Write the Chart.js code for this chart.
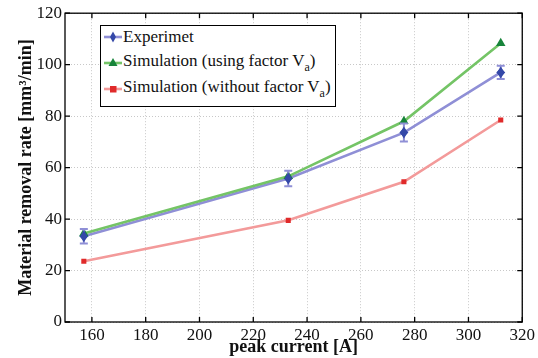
<!DOCTYPE html>
<html><head><meta charset="utf-8">
<script src="https://cdn.jsdelivr.net/npm/chart.js@4"></script>
<style>
html,body{margin:0;padding:0;background:#fff;}
#wrap{position:relative;width:538px;height:358px;}
#legend{position:absolute;left:100px;top:25px;width:234px;height:80px;border:1.3px solid #000;background:#fff;font-family:'Liberation Serif','Times New Roman','DejaVu Serif',serif;font-size:17px;color:#111;}
#legend .row{position:absolute;left:3px;display:flex;align-items:center;white-space:nowrap;}
#legend svg{margin-right:1px;}
#legend sub{font-size:12px;vertical-align:-5px;}
</style></head>
<body><div id="wrap"><canvas id="c" width="538" height="358"></canvas>
<div id="legend"></div></div>
<script>
const xTicks = [160,180,200,220,240,260,280,300,320];
const yTicks = [0,20,40,60,80,100,120];
const current = [157,233,276,312];
const experiment = [33.3,55.8,73.6,97.0];
const experimentErr = [2.8,3.0,3.5,2.6];
const simWithVa = [34.4,56.6,78.0,108.3];
const simWithoutVa = [23.6,39.5,54.5,78.5];

const FAM = "'Liberation Serif','Times New Roman','DejaVu Serif',serif";
Chart.defaults.font.family = FAM;
Chart.defaults.font.size = 17;
Chart.defaults.color = '#111';
const pts = (ys)=>current.map((x,i)=>({x:x,y:ys[i]}));
const series = [
 {label:'Experimet', data:pts(experiment), line:'#8f8fd6', mark:'#3448a8', style:'rectRot', r:4.5, order:2},
 {label:'Simulation (using factor V<sub>a</sub>)', data:pts(simWithVa), line:'#74c466', mark:'#17843a', style:'triangle', r:5.5, order:1},
 {label:'Simulation (without factor V<sub>a</sub>)', data:pts(simWithoutVa), line:'#f39a9a', mark:'#e02a2a', style:'rect', r:3.6, order:3}
];

const errPlugin = {
 id:'err',
 afterDatasetsDraw(chart){
  const {ctx, scales:{x,y}} = chart;
  ctx.save();
  ctx.strokeStyle='#8f8fd6'; ctx.lineWidth=2;
  current.forEach((cx,i)=>{
   const px=x.getPixelForValue(cx);
   const y1=y.getPixelForValue(experiment[i]-experimentErr[i]);
   const y2=y.getPixelForValue(experiment[i]+experimentErr[i]);
   ctx.beginPath();
   ctx.moveTo(px,y1);ctx.lineTo(px,y2);
   ctx.moveTo(px-4,y1);ctx.lineTo(px+4,y1);
   ctx.moveTo(px-4,y2);ctx.lineTo(px+4,y2);
   ctx.stroke();
   const py=y.getPixelForValue(experiment[i]);
   ctx.fillStyle='#3448a8';
   ctx.beginPath();ctx.moveTo(px,py-6);ctx.lineTo(px+3.8,py);ctx.lineTo(px,py+6);ctx.lineTo(px-3.8,py);ctx.closePath();ctx.fill();
  });
  ctx.restore();
 }
};
const boxPlugin = {
 id:'box',
 afterDraw(chart){
  const {ctx, chartArea:a, scales:{x,y}} = chart;
  ctx.save();
  ctx.strokeStyle='#000'; ctx.lineWidth=1.3;
  ctx.strokeRect(a.left,a.top,a.right-a.left,a.bottom-a.top);
  ctx.beginPath();
  xTicks.forEach(v=>{const p=x.getPixelForValue(v);ctx.moveTo(p,a.bottom);ctx.lineTo(p,a.bottom-5);ctx.moveTo(p,a.top);ctx.lineTo(p,a.top+5);});
  yTicks.forEach(v=>{const p=y.getPixelForValue(v);ctx.moveTo(a.left,p);ctx.lineTo(a.left+5,p);ctx.moveTo(a.right,p);ctx.lineTo(a.right-5,p);});
  ctx.stroke();
  ctx.restore();
 }
};

new Chart(document.getElementById('c'),{
 type:'line',
 data:{datasets:series.map(s=>({label:s.label,data:s.data,borderColor:s.line,backgroundColor:s.mark,borderWidth:2.6,
   pointStyle:s.style,pointRadius:s.r,pointBorderColor:s.mark,pointBackgroundColor:s.mark,pointBorderWidth:0,order:s.order,tension:0}))},
 options:{
  responsive:false,animation:false,
  layout:{padding:{top:12,right:15,left:0,bottom:0}},
  plugins:{legend:{display:false},tooltip:{enabled:false}},
  scales:{
   x:{type:'linear',min:150,max:320,
     afterBuildTicks:s=>{s.ticks=xTicks.map(v=>({value:v}));},
     afterFit:s=>{s.height=36;},
     grid:{color:'#c8c8c8',lineWidth:1,drawTicks:false},
     border:{display:false,dash:[1,2]},
     ticks:{font:{family:FAM,size:17},color:'#111',padding:3,maxRotation:0},
     title:{display:true,text:'peak current [A]',font:{family:FAM,size:18,weight:'bold'},color:'#111',padding:{top:-8,bottom:0}}},
   y:{type:'linear',min:0,max:120,
     afterBuildTicks:s=>{s.ticks=yTicks.map(v=>({value:v}));},
     afterFit:s=>{s.width=65;},
     grid:{color:'#c8c8c8',lineWidth:1,drawTicks:false},
     border:{display:false,dash:[1,2]},
     ticks:{font:{family:FAM,size:17},color:'#111',padding:3},
     title:{display:true,text:'Material removal rate [mm³/min]',font:{family:FAM,size:18,weight:'bold'},color:'#111',padding:{top:16,bottom:0}}}
  }
 },
 plugins:[errPlugin,boxPlugin]
});

const lg=document.getElementById('legend');
const tops=[1,25,51];
series.forEach((s,i)=>{
 let m='';
 if(s.style==='rectRot') m='<polygon points="9,2.5 12,8 9,13.5 6,8" fill="'+s.mark+'"/>';
 else if(s.style==='triangle') m='<polygon points="9,3 13.5,11 4.5,11" fill="'+s.mark+'"/>';
 else m='<rect x="6" y="5" width="6.5" height="6.5" fill="'+s.mark+'"/>';
 const row=document.createElement('div');row.className='row';row.style.top=tops[i]+'px';
 row.innerHTML='<svg width="18" height="16"><line x1="0" y1="8" x2="18" y2="8" stroke="'+s.line+'" stroke-width="2.6"/>'+m+'</svg><span>'+s.label+'</span>';
 lg.appendChild(row);
});
</script></body></html>
